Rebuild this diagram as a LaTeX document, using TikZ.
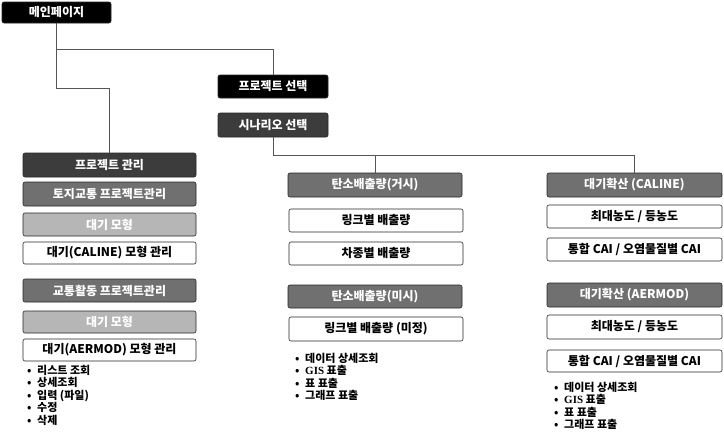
\documentclass[tikz,border=0pt]{standalone}
\usepackage{fontspec}
\setmainfont{Noto Sans CJK KR}
\newfontfamily\gisfont{Liberation Serif}
\definecolor{cblack}{HTML}{000000}
\definecolor{cdark}{HTML}{3C3C3C}
\definecolor{cmid}{HTML}{707070}
\definecolor{clight}{HTML}{B6B6B6}
\definecolor{cline}{HTML}{555555}
\newcommand{\bul}{\makebox[10pt][l]{•}}
\begin{document}
\begin{tikzpicture}[x=1pt,y=-1pt,
  base/.style={draw=black!85, line width=0.6pt, rounded corners=2pt, inner sep=0pt,
    font=\bfseries\fontsize{12}{14}\selectfont},
  blackbox/.style={base, fill=cblack, text=white},
  darkbox/.style={base, fill=cdark, text=white},
  midbox/.style={base, fill=cmid, text=white},
  lightbox/.style={base, fill=clight, text=white},
  whitebox/.style={base, fill=white, text=black},
  lw/.style={minimum width=173pt},
  mw/.style={minimum width=174pt},
  rw/.style={minimum width=175pt},
  blist/.style={anchor=north west, align=left, inner sep=0pt,
    font=\bfseries\fontsize{11}{12.4}\selectfont},
  conn/.style={draw=cline, line width=0.8pt}
]
\useasboundingbox (0,0) rectangle (724,442);

% top
\node[blackbox, minimum width=109pt, minimum height=21pt] (main) at (56.5,12.5) {메인페이지};
\node[blackbox, minimum width=110pt, minimum height=23pt] (psel) at (273,86.5) {프로젝트 선택};
\node[darkbox, minimum width=110pt, minimum height=24pt] (ssel) at (273,125) {시나리오 선택};

% left column
\node[darkbox, lw, minimum height=24pt] (pm) at (109.5,165) {프로젝트 관리};
\node[midbox, lw, minimum height=24pt] (tz) at (109.5,194) {토지교통 프로젝트관리};
\node[lightbox, lw, minimum height=23pt] (dm1) at (109.5,224.5) {대기 모형};
\node[whitebox, lw, minimum height=22pt] (cal) at (109.5,253) {대기(CALINE) 모형 관리};
\node[midbox, lw, minimum height=23pt] (ta) at (109.5,290.5) {교통활동 프로젝트관리};
\node[lightbox, lw, minimum height=22pt] (dm2) at (109.5,322) {대기 모형};
\node[whitebox, lw, minimum height=22pt] (aer) at (109.5,350) {대기(AERMOD) 모형 관리};
\node[blist] (lst1) at (27,365) {\bul 리스트 조회\\\bul 상세조회\\\bul 입력 (파일)\\\bul 수정\\\bul 삭제};

% middle column
\node[midbox, mw, minimum height=24pt] (c1) at (375,185) {탄소배출량(거시)};
\node[whitebox, mw, minimum height=23pt] (l1) at (376,220.5) {링크별 배출량};
\node[whitebox, mw, minimum height=23pt] (l2) at (376,253.5) {차종별 배출량};
\node[midbox, mw, minimum height=23pt] (c2) at (375,296.5) {탄소배출량(미시)};
\node[whitebox, mw, minimum height=24pt] (l3) at (376,329) {링크별 배출량 (미정)};
\node[blist] (lst2) at (295,353) {\bul 데이터 상세조회\\\bul {\gisfont GIS} 표출\\\bul 표 표출\\\bul 그래프 표출};

% right column
\node[midbox, rw, minimum height=24pt] (d1) at (634.5,185) {대기확산 (CALINE)};
\node[whitebox, rw, minimum height=23pt] (r1) at (634.5,216.5) {최대농도 / 등농도};
\node[whitebox, rw, minimum height=23pt] (r2) at (634.5,249.5) {통합 CAI / 오염물질별 CAI};
\node[midbox, rw, minimum height=24pt] (d2) at (634.5,295) {대기확산 (AERMOD)};
\node[whitebox, rw, minimum height=24pt] (r3) at (634.5,327) {최대농도 / 등농도};
\node[whitebox, rw, minimum height=22pt] (r4) at (634.5,361) {통합 CAI / 오염물질별 CAI};
\node[blist] (lst3) at (554,382) {\bul 데이터 상세조회\\\bul {\gisfont GIS} 표출\\\bul 표 표출\\\bul 그래프 표출};

% connectors
\coordinate (j1) at (main.south |- 0,49);
\coordinate (j2) at (main.south |- 0,88);
\coordinate (j3) at (ssel.south |- 0,155);
\draw[conn] (main.south) -- (j2) -| (pm.north);
\draw[conn] (j1) -| (psel.north);
\draw[conn] (ssel.south) -- (j3) -| (d1.north);
\draw[conn] (j3) -| (c1.north);
\end{tikzpicture}
\end{document}
